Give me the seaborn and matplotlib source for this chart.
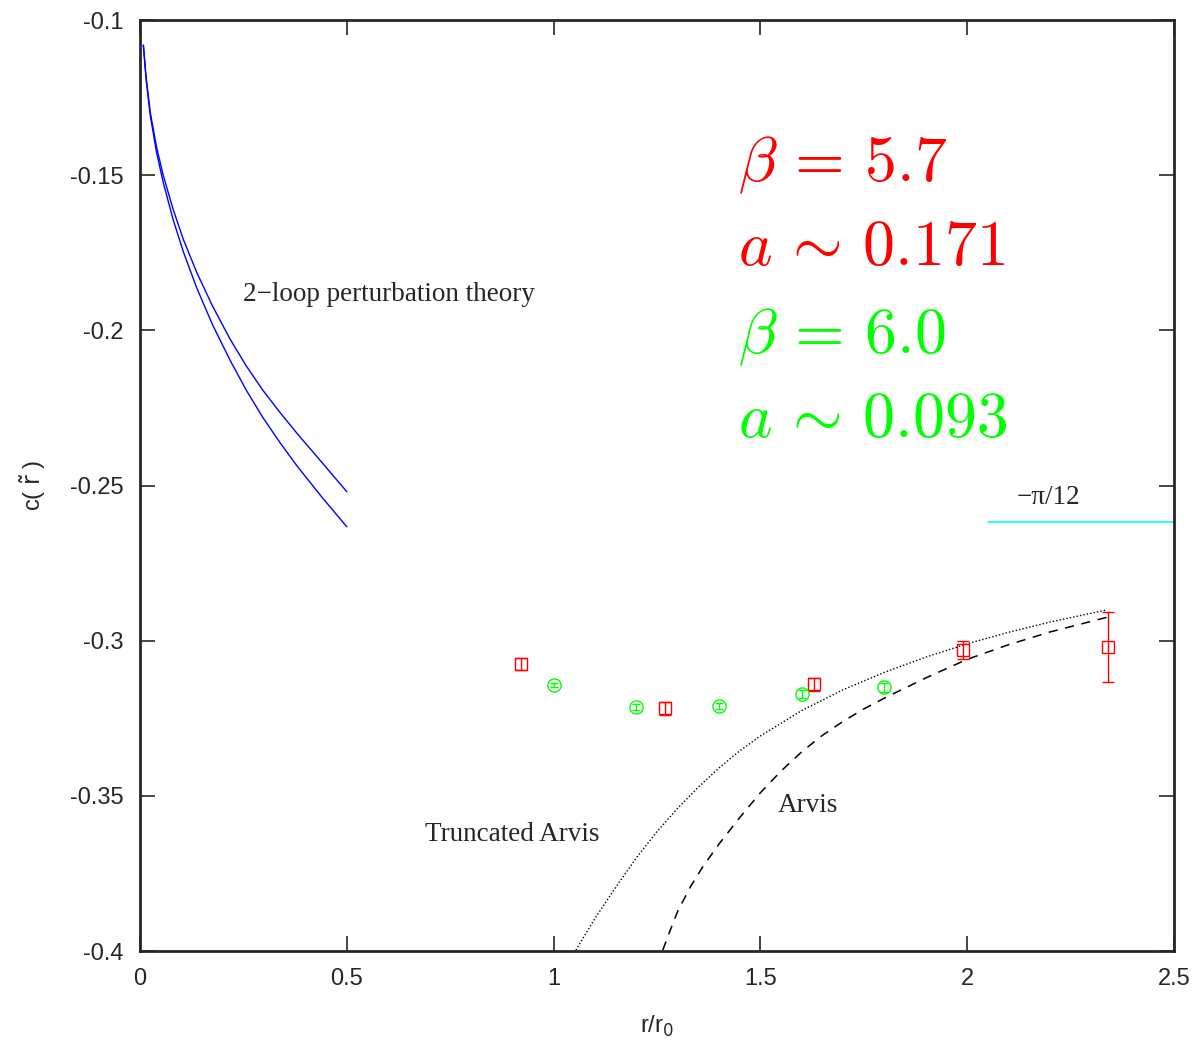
import numpy as np
import pandas as pd
import matplotlib
matplotlib.use("Agg")
import matplotlib.pyplot as plt
import seaborn as sns

# Lattice data: beta = 5.7 (red squares)
r_b57 = [0.92, 1.27, 1.63, 1.99, 2.34]
c_b57 = [-0.3075, -0.3217, -0.3140, -0.3030, -0.3020]
e_b57 = [0.0020, 0.0021, 0.0021, 0.0028, 0.0113]

# Lattice data: beta = 6.0 (green circles)
r_b60 = [1.0, 1.2, 1.4, 1.6, 1.8]
c_b60 = [-0.3143, -0.3214, -0.3211, -0.3172, -0.3150]
e_b60 = [0.0007, 0.0009, 0.0009, 0.0012, 0.0015]

# 2-loop perturbation theory band (two curves)
r_pt = [0.008, 0.015, 0.025, 0.040, 0.056, 0.080, 0.105, 0.137, 0.175, 0.218,
        0.257, 0.297, 0.338, 0.379, 0.440, 0.500]
c_pt_hi = [-0.1081, -0.1190, -0.1300, -0.1410, -0.1500, -0.1610, -0.1708, -0.1813,
           -0.1921, -0.2029, -0.2115, -0.2193, -0.2264, -0.2331, -0.2426, -0.2520]
c_pt_lo = [-0.1081, -0.1195, -0.1310, -0.1427, -0.1523, -0.1643, -0.1748, -0.1863,
           -0.1981, -0.2097, -0.2193, -0.2281, -0.2361, -0.2436, -0.2538, -0.2633]

# Truncated Arvis (dotted)
r_tarv = [1.054, 1.10, 1.15, 1.20, 1.25, 1.30, 1.35, 1.40, 1.45, 1.50, 1.60, 1.70,
          1.80, 1.90, 2.00, 2.10, 2.20, 2.337]
c_tarv = [-0.3997, -0.3895, -0.3795, -0.3700, -0.3615, -0.3540, -0.3472, -0.3410,
          -0.3355, -0.3307, -0.3225, -0.3158, -0.3102, -0.3053, -0.3010, -0.2973,
          -0.2940, -0.2901]

# Arvis (dashed)
r_arv = [1.264, 1.28, 1.30, 1.33, 1.36, 1.40, 1.45, 1.50, 1.55, 1.60, 1.65, 1.70,
         1.75, 1.80, 1.90, 2.00, 2.10, 2.20, 2.337]
c_arv = [-0.3997, -0.3940, -0.3872, -0.3795, -0.3730, -0.3655, -0.3570, -0.3490,
         -0.3420, -0.3358, -0.3305, -0.3260, -0.3220, -0.3185, -0.3120, -0.3060,
         -0.3013, -0.2972, -0.2925]

# Asymptotic value -pi/12
r_lim = [2.05, 2.5]
c_lim = [-np.pi / 12, -np.pi / 12]

sns.set_style("ticks")
plt.rcParams["font.family"] = ["Liberation Sans", "DejaVu Sans"]

fig = plt.figure(figsize=(11.99, 10.42), dpi=100)
ax = fig.add_axes([0.1168, 0.0873, 0.9791 - 0.1168, 0.9808 - 0.0873])

def curve(x, y, **kw):
    df = pd.DataFrame({"x": x, "y": y})
    sns.lineplot(data=df, x="x", y="y", ax=ax, sort=False, estimator=None, **kw)

curve(r_pt, c_pt_hi, color="#0000ff", linewidth=1.0)
curve(r_pt, c_pt_lo, color="#0000ff", linewidth=1.0)
curve(r_tarv, c_tarv, color="black", linewidth=1.0, linestyle=(0, (1, 1.5)))
curve(r_arv, c_arv, color="black", linewidth=1.1, linestyle=(0, (6, 5)))
curve(r_lim, c_lim, color="#00ffff", linewidth=1.2)

ax.errorbar(r_b57, c_b57, yerr=e_b57, fmt="s", color="#ff0000", mfc="none",
            mec="#ff0000", ms=8.5, mew=1.0, elinewidth=1.0, capsize=4.0, capthick=1.0)
ax.errorbar(r_b60, c_b60, yerr=e_b60, fmt="o", color="#00ff00", mfc="none",
            mec="#00ff00", ms=9.5, mew=1.0, elinewidth=1.0, capsize=3.0, capthick=1.0)

ax.set_xlim(0, 2.5)
ax.set_ylim(-0.4, -0.1)
ax.set_xticks([0, 0.5, 1, 1.5, 2, 2.5])
ax.set_xticklabels(["0", "0.5", "1", "1.5", "2", "2.5"])
ax.set_yticks([-0.4, -0.35, -0.3, -0.25, -0.2, -0.15, -0.1])
ax.set_yticklabels(["-0.4", "-0.35", "-0.3", "-0.25", "-0.2", "-0.15", "-0.1"])
ax.tick_params(direction="in", length=11, width=1.2, labelsize=17,
               top=True, right=True, pad=12)
for s in ax.spines.values():
    s.set_linewidth(2.0)
    s.set_visible(True)

ax.set_xlabel(r"r/r$_0$", fontsize=17, labelpad=17)
ax.set_ylabel(r"c( $\tilde{\rm r}$ )", fontsize=17, labelpad=16, math_fontfamily="dejavusans")

serif = ["Liberation Serif", "DejaVu Serif"]
ax.text(0.249, -0.1886, "2\u2212loop perturbation theory", family=serif, fontsize=19.5, va="center", ha="left")
ax.text(0.688, -0.3626, "Truncated Arvis", family=serif, fontsize=19.5, va="center", ha="left")
ax.text(1.543, -0.3530, "Arvis", family=serif, fontsize=19.5, va="center", ha="left")
ax.text(2.12, -0.2537, "\u2212\u03c0/12", family=serif, fontsize=19.5, va="center", ha="left")

big = dict(fontsize=46, math_fontfamily="cm", ha="left", va="baseline")
ax.text(1.445, -0.1516, r"$\beta \,=\, 5.7$", color="#ff0000", **big)
ax.text(1.445, -0.1790, r"$a \,\sim\, 0.171$", color="#ff0000", **big)
ax.text(1.445, -0.2070, r"$\beta \,=\, 6.0$", color="#00ff00", **big)
ax.text(1.445, -0.2344, r"$a \,\sim\, 0.093$", color="#00ff00", **big)

fig.savefig("out.png", dpi=100)
